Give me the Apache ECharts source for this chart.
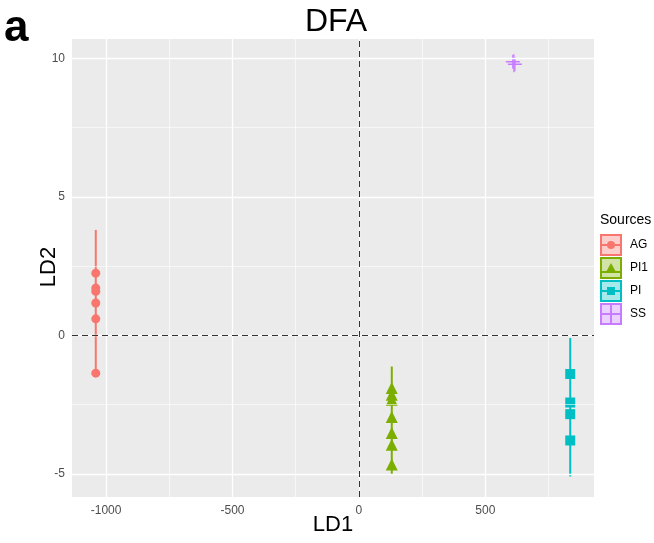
<!DOCTYPE html>
<html>
<head>
<meta charset="utf-8">
<script src="https://cdn.jsdelivr.net/npm/echarts@6/dist/echarts.min.js"></script>
<style>
  html, body { margin: 0; padding: 0; background: #fff; }
  #chart { width: 654px; height: 543px; }
</style>
</head>
<body>
<div id="chart"></div>
<script>
// data
var groups = ['AG', 'PI1', 'PI', 'SS'];
var colors = ['#F8766D', '#7CAE00', '#00BFC4', '#C77CFF'];

var agX = -1041;
var agY = [2.25, 1.71, 1.59, 1.17, 0.60, -1.36];
var agRange = [-1.45, 3.81];

var pi1X = 130;
var pi1Y = [-1.90, -2.14, -2.32, -2.94, -3.52, -3.94, -4.66];
var pi1Range = [-5.03, -1.12];

var piX = 836;
var piY = [-1.39, -2.42, -2.84, -3.79];
var piRange = [-5.09, -0.09];

var ssX = [609, 617];
var ssY = [9.88, 9.79];
var ssRange = [9.50, 10.15];

var xTicks = [-1000, -500, 0, 500];
var xMinor = [-750, -250, 250, 750];
var yTicks = [-5, 0, 5, 10];
var yMinor = [-2.5, 2.5, 7.5];

var font = 'Liberation Sans, Arial, sans-serif';

var chart = echarts.init(document.getElementById('chart'));

function pts(x, ys) {
  return ys.map(function (y) { return [x, y]; });
}
function pts2(xs, ys) {
  return xs.map(function (x, i) { return [x, ys[i]]; });
}
function range(x, r) {
  return [[x, r[0]], [x, r[1]]];
}

// grid lines (white) + dashed zero lines
var gridLines = [];
xTicks.forEach(function (v) { gridLines.push({ xAxis: v, lineStyle: { color: '#fff', width: 1.3, type: 'solid' } }); });
xMinor.forEach(function (v) { gridLines.push({ xAxis: v, lineStyle: { color: '#fff', width: 0.6, type: 'solid' } }); });
yTicks.forEach(function (v) { gridLines.push({ yAxis: v, lineStyle: { color: '#fff', width: 1.3, type: 'solid' } }); });
yMinor.forEach(function (v) { gridLines.push({ yAxis: v, lineStyle: { color: '#fff', width: 0.6, type: 'solid' } }); });

var zeroLines = [
  { xAxis: 0, lineStyle: { color: '#333', width: 1, type: [6, 4] } },
  { yAxis: 0, lineStyle: { color: '#333', width: 1, type: [6, 4] } }
];

// plus sign outline for SS
var plusPath = 'path://M9,0L11,0L11,9L20,9L20,11L11,11L11,20L9,20L9,11L0,11L0,9L9,9Z';

function errLine(name, x, r, c, w) {
  return {
    name: name, type: 'line', data: range(x, r), showSymbol: false, symbol: 'none',
    lineStyle: { color: c, width: w || 2 }, silent: true, z: 3, animation: false
  };
}
function scatter(name, data, sym, size, c) {
  return {
    name: name, type: 'scatter', data: data, symbol: sym, symbolSize: size,
    itemStyle: { color: c, opacity: 1 }, z: 4, animation: false
  };
}

var option = {
  animation: false,
  grid: {
    left: 72, right: 60, top: 39, bottom: 46,
    outerBoundsMode: 'none', containLabel: false,
    show: true, backgroundColor: '#EBEBEB', borderWidth: 0
  },
  xAxis: {
    type: 'value', min: -1135, max: 930,
    axisLine: { show: false },
    axisTick: { show: true, length: 4, lineStyle: { color: '#333' }, customValues: xTicks },
    axisLabel: {
      color: '#4D4D4D', fontSize: 12, fontFamily: font, margin: 8, customValues: xTicks,
      formatter: function (v) { return String(v); }
    },
    splitLine: { show: false }
  },
  yAxis: {
    type: 'value', min: -5.83, max: 10.70,
    axisLine: { show: false },
    axisTick: { show: true, length: 4, lineStyle: { color: '#333' }, customValues: yTicks },
    axisLabel: {
      color: '#4D4D4D', fontSize: 12, fontFamily: font, margin: 7, customValues: yTicks,
      formatter: function (v) { return String(v); }
    },
    splitLine: { show: false }
  },
  graphic: [
    { type: 'text', left: 4, top: 7, style: { text: 'a', font: 'bold 44px ' + font, fill: '#000' } },
    { type: 'text', x: 336, y: 22, style: { text: 'DFA', font: '32px ' + font, fill: '#000', textAlign: 'center', textVerticalAlign: 'middle' } },
    { type: 'text', x: 333, y: 525, style: { text: 'LD1', font: '22px ' + font, fill: '#000', textAlign: 'center', textVerticalAlign: 'middle' } },
    { type: 'text', x: 49, y: 267, rotation: Math.PI / 2, style: { text: 'LD2', font: '22px ' + font, fill: '#000', textAlign: 'center', textVerticalAlign: 'middle' } },
    { type: 'text', x: 600, y: 220, style: { text: 'Sources', font: '14px ' + font, fill: '#000', textVerticalAlign: 'middle' } }
  ],
  series: [
    {
      type: 'line', data: [], silent: true, z: 1,
      markLine: { symbol: 'none', silent: true, label: { show: false }, animation: false, data: gridLines }
    },
    {
      type: 'line', data: [], silent: true, z: 2,
      markLine: { symbol: 'none', silent: true, label: { show: false }, animation: false, data: zeroLines }
    },
    errLine('AG', agX, agRange, colors[0]),
    errLine('PI1', pi1X, pi1Range, colors[1]),
    errLine('PI', piX, piRange, colors[2]),
    errLine('SS', (ssX[0] + ssX[1]) / 2, ssRange, colors[3], 1.2),
    scatter('AG', pts(agX, agY), 'circle', 9, colors[0]),
    scatter('PI1', pts(pi1X, pi1Y), 'triangle', 12, colors[1]),
    scatter('PI', pts(piX, piY), 'rect', 10, colors[2]),
    scatter('SS', pts2(ssX, ssY), plusPath, 14, colors[3])
  ]
};

// legend keys drawn as graphics
groups.forEach(function (g, i) {
  var c = colors[i];
  var y0 = 235 + i * 23;
  var kids = [
    { type: 'rect', shape: { x: 0, y: 0, width: 20, height: 20 }, style: { fill: c, opacity: 0.35, stroke: c, lineWidth: 2 } },
    { type: 'rect', shape: { x: 0, y: 0, width: 20, height: 20 }, style: { fill: 'none', stroke: c, lineWidth: 2 } }
  ];
  if (g === 'AG') {
    kids.push({ type: 'line', shape: { x1: 1, y1: 10, x2: 19, y2: 10 }, style: { stroke: c, lineWidth: 2 } });
    kids.push({ type: 'circle', shape: { cx: 10, cy: 10, r: 4 }, style: { fill: c } });
  } else if (g === 'PI1') {
    kids.push({ type: 'line', shape: { x1: 1, y1: 14, x2: 19, y2: 14 }, style: { stroke: c, lineWidth: 2 } });
    kids.push({ type: 'polygon', shape: { points: [[10, 5], [15, 14], [5, 14]] }, style: { fill: c } });
  } else if (g === 'PI') {
    kids.push({ type: 'line', shape: { x1: 1, y1: 10, x2: 19, y2: 10 }, style: { stroke: c, lineWidth: 2 } });
    kids.push({ type: 'rect', shape: { x: 6, y: 6, width: 8, height: 8 }, style: { fill: c } });
  } else {
    kids.push({ type: 'line', shape: { x1: 1, y1: 10, x2: 19, y2: 10 }, style: { stroke: c, lineWidth: 2 } });
    kids.push({ type: 'line', shape: { x1: 10, y1: 1, x2: 10, y2: 19 }, style: { stroke: c, lineWidth: 2 } });
  }
  option.graphic.push({ type: 'group', x: 601, y: y0, children: kids });
  option.graphic.push({ type: 'text', x: 630, y: y0 + 10, style: { text: g, font: '12px ' + font, fill: '#000', textVerticalAlign: 'middle' } });
});

chart.setOption(option);
</script>
</body>
</html>
